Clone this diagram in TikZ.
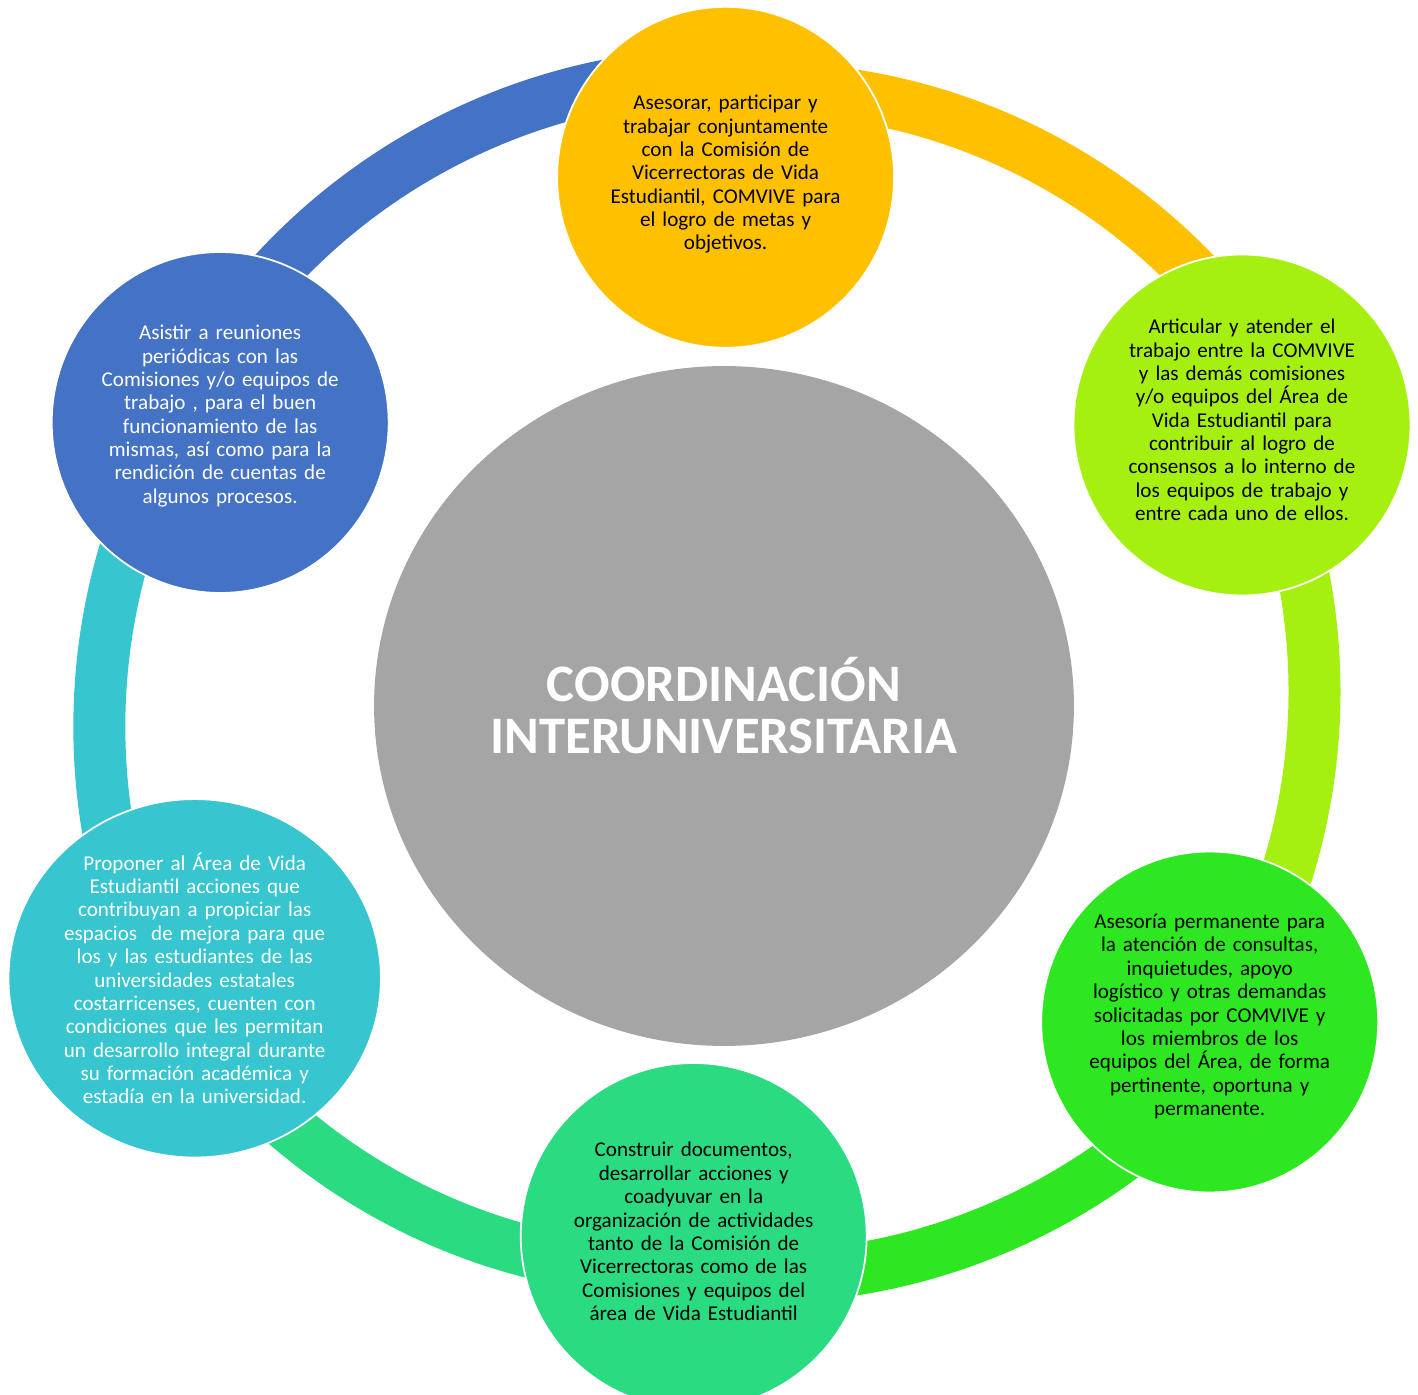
\documentclass[tikz,border=0pt]{standalone}
\usepackage{fontspec}
\setmainfont{Carlito}
\usepackage{tikz}
\usetikzlibrary{shapes.geometric,positioning}
\definecolor{cblue}{HTML}{4472C4}
\definecolor{cyellow}{HTML}{FFC000}
\definecolor{clime}{HTML}{A6F011}
\definecolor{cgreen}{HTML}{2DE820}
\definecolor{cmint}{HTML}{2ADB82}
\definecolor{cteal}{HTML}{37C5CF}
\definecolor{cgrey}{HTML}{A5A5A5}
\tikzstyle{hub} = [ellipse, minimum width = 14cm, minimum height = 13.6cm, inner sep = 0pt, fill = cgrey, text = white, align = center, font = \fontsize{30}{29.6}\selectfont\bfseries]
\tikzstyle{bubble} = [ellipse, minimum width = 6.74cm, minimum height = 6.82cm, inner sep = 0pt, draw = white, line width = 1pt]
\tikzstyle{bubbletext} = [text width = 6.2cm, align = center, inner sep = 0pt, font = \fontsize{12}{13.3}\selectfont]
\tikzstyle{band} = [line width = 1.04cm, bend left = 30, looseness = 0.91]

\begin{document}
\begin{tikzpicture}[x = 0.02cm, y = -0.02cm]
    \useasboundingbox (0,0) rectangle (1418,1395);

    % ends of the ring pieces, hidden under the bubbles
    \coordinate (blue-out) at (195.8,379.6);
    \coordinate (yellow-in) at (725.8,73.6);
    \coordinate (yellow-out) at (761.4,88.2);
    \coordinate (lime-in) at (1281,388.2);
    \coordinate (lime-out) at (1234,389);
    \coordinate (green-in) at (1234,994);
    \coordinate (green-out) at (1287.1,972.1);
    \coordinate (mint-in) at (758.9,1277.1);
    \coordinate (mint-out) at (678.6,1270.8);
    \coordinate (teal-in) at (159,970.8);
    \coordinate (teal-out) at (180.5,1031.8);
    \coordinate (blue-in) at (180.5,421.8);

    \draw [band, cblue] (blue-out) to (yellow-in);
    \draw [band, cyellow] (yellow-out) to (lime-in);
    \draw [band, clime] (lime-out) to (green-in);
    \draw [band, cgreen] (green-out) to (mint-in);
    \draw [band, cmint] (mint-out) to (teal-in);
    \draw [band, cteal] (teal-out) to (blue-in);

    \node (hub) [hub] at (724,706) {COORDINACIÓN\\INTERUNIVERSITARIA};

    \node (yellow) [bubble, fill = cyellow] at (725.6,177.3) {};
    \node (lime) [bubble, fill = clime] at (1242,425) {};
    \node (green) [bubble, fill = cgreen] at (1209.7,1022) {};
    \node (mint) [bubble, fill = cmint, minimum width = 6.92cm, minimum height = 6.92cm] at (693.7,1236) {};
    \node (teal) [bubble, fill = cteal, minimum width = 7.45cm, minimum height = 7.17cm] at (194.7,978.3) {};
    \node (blue) [bubble, fill = cblue] at (220.2,422.5) {};

    \node (yellow-txt) [bubbletext, yshift = 0.06cm] at (yellow) {Asesorar, participar y\\ trabajar conjuntamente\\ con la Comisión de\\ Vicerrectoras de Vida\\ Estudiantil, COMVIVE para\\ el logro de metas y\\ objetivos.};
    \node (lime-txt) [bubbletext, yshift = 0.1cm] at (lime) {Articular y atender el\\ trabajo entre la COMVIVE\\ y las demás comisiones\\ y/o equipos del Área de\\ Vida Estudiantil para\\ contribuir al logro de\\ consensos a lo interno de\\ los equipos de trabajo y\\ entre cada uno de ellos.};
    \node (green-txt) [bubbletext, yshift = 0.11cm] at (green) {Asesoría permanente para\\ la atención de consultas,\\ inquietudes, apoyo\\ logístico y otras demandas\\ solicitadas por COMVIVE y\\ los miembros de los\\ equipos del Área, de forma\\ pertinente, oportuna y\\ permanente.};
    \node (mint-txt) [bubbletext, yshift = 0.09cm] at (mint) {Construir documentos,\\ desarrollar acciones y\\ coadyuvar en la\\ organización de actividades\\ tanto de la Comisión de\\ Vicerrectoras como de las\\ Comisiones y equipos del\\ área de Vida Estudiantil};
    \node (teal-txt) [bubbletext, text = white] at (teal) {Proponer al Área de Vida\\ Estudiantil acciones que\\ contribuyan a propiciar las\\ espacios\ \ de mejora para que\\ los y las estudiantes de las\\ universidades estatales\\ costarricenses, cuenten con\\ condiciones que les permitan\\ un desarrollo integral durante\\ su formación académica y\\ estadía en la universidad.};
    \node (blue-txt) [bubbletext, text = white, yshift = 0.13cm] at (blue) {Asistir a reuniones\\ periódicas con las\\ Comisiones y/o equipos de\\ trabajo , para el buen\\ funcionamiento de las\\ mismas, así como para la\\ rendición de cuentas de\\ algunos procesos.};
\end{tikzpicture}
\end{document}
